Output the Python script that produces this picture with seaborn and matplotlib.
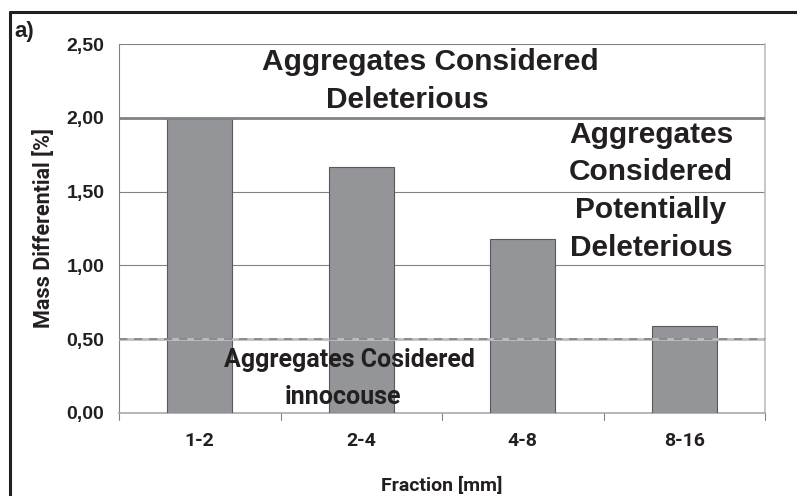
import matplotlib
matplotlib.use("Agg")
import matplotlib.pyplot as plt
from matplotlib.lines import Line2D
from matplotlib import font_manager as fm
import pandas as pd
import seaborn as sns

fractions = ["1-2", "2-4", "4-8", "8-16"]
mass_diff = [2.00, 1.67, 1.18, 0.59]
yticks = [0.0, 0.5, 1.0, 1.5, 2.0, 2.5]
ytick_labels = ["0,00", "0,50", "1,00", "1,50", "2,00", "2,50"]
limit_deleterious = 2.0
limit_innocuous = 0.5

df = pd.DataFrame({"Fraction": fractions, "Mass": mass_diff})

sns.set_style("white")
plt.rcParams['font.family'] = ['Liberation Sans', 'DejaVu Sans']
installed = {f.name for f in fm.fontManager.ttflist}
narrow = ['Liberation Sans Narrow' if 'Liberation Sans Narrow' in installed else 'Roboto', 'DejaVu Sans']
txt_col = "#231f20"

fig = plt.figure(figsize=(7.97, 4.96), dpi=100)
ax = fig.add_axes([119/797, 83/496, 646/797, 369/496])

sns.barplot(data=df, x="Fraction", y="Mass", color="#939598", saturation=1,
            width=0.4, edgecolor="#58595b", linewidth=0.8, ax=ax, zorder=3)

ax.set_ylim(0, 2.5)
ax.set_xlim(-0.5, 3.5)
ax.set_yticks(yticks)
ax.set_yticklabels(ytick_labels, fontsize=14, fontweight="bold", color=txt_col)
ax.set_xticks(range(len(fractions)))
ax.set_xticklabels(fractions, fontsize=14, fontweight="bold", color=txt_col, family=narrow)
ax.tick_params(axis="x", length=0, pad=14)
ax.tick_params(axis="y", length=4.5, color="#808285", width=0.8, pad=6)

# gridlines
for y in yticks[1:]:
    ax.axhline(y, color="#808285", linewidth=0.8, zorder=1)
ax.axhline(limit_deleterious, color="#808285", linewidth=2, zorder=4)
ax.axhline(limit_innocuous, color="#bcbec0", linewidth=2, zorder=4)
ax.axhline(limit_innocuous, color="#808285", linewidth=1.2, linestyle=(0, (5, 4)), zorder=5)

# category separators below axis
for xb in [-0.5, 0.5, 1.5, 2.5, 3.5]:
    ax.plot([xb, xb], [0, -0.045], color="#808285", linewidth=0.8, clip_on=False)

ax.spines["top"].set_visible(False)
ax.spines["left"].set_color("#808285")
ax.spines["bottom"].set_color("#a7a9ac")
ax.spines["right"].set_color("#bcbec0")
ax.spines["bottom"].set_linewidth(1.2)
ax.spines["right"].set_linewidth(1.2)

ax.set_xlabel("Fraction [mm]", fontsize=14, fontweight="bold", color=txt_col,
              family=narrow, labelpad=19)
ax.set_ylabel("Mass Differential [%]", fontsize=15.5, fontweight="bold", color=txt_col,
              family=narrow, labelpad=8)

big = dict(ha="center", va="center", fontsize=21.5, fontweight="bold", color=txt_col, zorder=6)
ax.text(1.426, 2.378, "Aggregates Considered", **big)
ax.text(1.283, 2.121, "Deleterious", **big)
for yy, line in zip([1.883, 1.633, 1.375, 1.118],
                    ["Aggregates", "Considered", "Potentially", "Deleterious"]):
    ax.text(2.794, yy, line, **big)
low = dict(ha="center", va="center", fontsize=18, fontweight="bold", color=txt_col,
           family=narrow, zorder=6)
ax.text(0.924, 0.359, "Aggregates Cosidered", **low)
ax.text(0.887, 0.108, "innocouse", **low)

# outer frame
fig.add_artist(Line2D([10/797, 10/797], [0, 1 - 12/496], color="#231f20", linewidth=2.2))
fig.add_artist(Line2D([10/797, 1], [1 - 12/496, 1 - 12/496], color="#231f20", linewidth=2.2))
fig.text(14/797, 1 - 31/496, "a)", fontsize=16, fontweight="bold", color=txt_col, va="center")

fig.savefig("out.png", dpi=100)
